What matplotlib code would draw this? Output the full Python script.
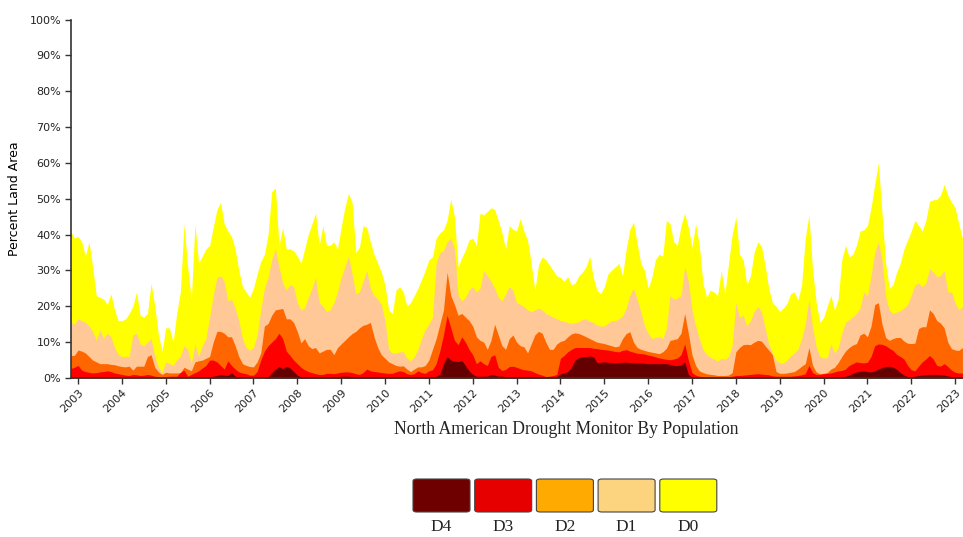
"""
North American Drought Monitor by population: cumulative drought areas, 2003-2023
"""
import matplotlib
matplotlib.use('Agg')
import matplotlib.pyplot as plt
from matplotlib.patches import FancyBboxPatch
import numpy as np
import pandas as pd

# monthly samples, Nov 2002 .. Mar 2023
dates = pd.date_range('2002-11-01', '2023-03-01', freq='MS')

# cumulative percent of area (D0-D4, D1-D4, D2-D4, D3-D4, D4)
d0 = [41, 39,
      39.5, 38, 34, 38, 31, 23, 22.5, 22, 20.5, 23.5, 19, 16,
      16, 16.5, 18, 20, 24, 17.5, 17, 18, 26.5, 20, 12, 7.5,
      14, 14, 10, 18, 24, 43, 31, 22, 43, 32, 34, 36,
      37, 42, 47, 49, 43, 41, 39.5, 36, 30, 25.5, 24, 22.5,
      25, 29, 32.5, 34.5, 40, 52, 53, 37, 42, 36, 36, 35.5,
      34, 32, 36, 40, 43, 46, 37, 42.5, 37, 37, 38, 36,
      42, 47.5, 51.5, 49, 35, 36.5, 42.5, 42, 38, 34.5, 32, 29.5,
      26, 19, 18, 24.5, 25.5, 24, 20, 21, 23, 25, 27.5, 30,
      33, 33.8, 39, 40.5, 41.3, 44, 50, 45, 31, 33.5, 35.7, 38.5,
      39, 37, 46, 45.5, 46.5, 47.5, 47, 44, 40.5, 36, 42.5, 41.5,
      41, 44.5, 41, 38.5, 32, 24.5, 31.5, 33.8, 33, 31.5, 30, 28.5,
      28, 27, 28.3, 26, 26.4, 28.5, 29.5, 31, 34, 28, 24.5, 23.5,
      25.4, 29, 30.1, 31, 32, 28.5, 36, 41.5, 43.5, 37.5, 32, 30,
      25, 28, 33, 34.5, 34, 44, 43, 38, 37, 42.5, 46, 42,
      36.5, 43, 37, 26.5, 22.5, 24.5, 24, 23, 30, 23.5, 32, 40,
      45, 34.5, 33, 26, 28.5, 35, 38, 36.8, 31.5, 25, 21, 20,
      18.5, 19.5, 20.8, 23.5, 24, 21.7, 26, 39, 45.5, 30, 21, 15.5,
      16.8, 20, 23, 19, 22, 33, 37, 33.8, 34.5, 37, 41, 41.3,
      42.5, 47.5, 54, 60, 46, 32, 25, 26, 29.5, 32, 36, 38.5,
      41, 44, 42.5, 41, 44, 49.3, 49.7, 49.8, 51, 54, 51, 49,
      47.5, 43, 39]
d1 = [15.5, 15,
      16.5, 16, 15.5, 14.5, 13, 10.5, 13.5, 11, 12.5, 11.5, 8.5, 6.5,
      6, 6, 6, 12, 12.5, 9.5, 9, 10, 11, 6, 3, 1.5,
      4.5, 4, 3.5, 5, 6, 9, 8, 4, 9.5, 6, 9, 11,
      17, 23, 28, 28.5, 27, 21.5, 22, 19.5, 16, 11, 8.5, 7.8,
      8.5, 12, 19, 25, 28, 33, 36, 31, 26.5, 24.5, 26, 25.5,
      21, 19, 19.5, 22.5, 25, 28, 21, 20, 18.5, 19, 21, 24,
      28, 31, 34, 29, 23.5, 24, 27, 30, 25, 23, 22, 20.5,
      16, 8, 7, 7, 7.3, 7.3, 5.5, 4.8, 6, 8, 11, 13.5,
      15, 17, 32, 35, 35.5, 38, 39, 36, 23, 21.5, 22.5, 24.5,
      25.5, 24, 25, 30, 28.5, 27, 25, 22.5, 21.5, 23.5, 25.5, 24.5,
      21, 20.5, 20, 19, 18.5, 19, 19.5, 19, 18, 17.5, 17, 16.5,
      16, 15.8, 15.5, 15.3, 15.4, 15.7, 16.3, 16.5, 15.8, 15.5, 14.7, 14.5,
      14.5, 15.3, 16, 16, 16.5, 17.3, 19.5, 23, 25, 22, 18.5, 14.5,
      12.5, 11, 11.3, 11.5, 11, 14, 23, 22, 22.3, 23, 31, 27,
      19, 14.5, 11, 8, 6.5, 5.8, 5.3, 4.7, 5.5, 5.2, 6, 9,
      21, 17, 17.5, 14.5, 16, 18.5, 20, 18.5, 14, 9.5, 7, 5,
      4.2, 4.2, 5, 6.2, 7, 8, 11, 15, 22, 14, 8.7, 6,
      5.6, 5.6, 9.5, 7, 8.5, 12.5, 15.5, 16.3, 17, 18, 19.5, 24,
      22.8, 28.5, 35, 38, 33, 22.5, 19, 18, 18.4, 18.8, 19.5, 20.5,
      23, 26, 26.5, 25.5, 26.5, 30.5, 29.5, 28.3, 28.5, 30, 24, 24,
      21, 19, 20]
d2 = [6.3, 6.3,
      7.8, 7.5, 7, 6, 5, 4.5, 4, 4, 4, 3.8, 3.7, 3.4,
      3.2, 3.1, 3.3, 2.2, 3.3, 3.3, 3.3, 6, 6.5, 3, 1.7, 1,
      1.6, 1.4, 1.4, 1.4, 1.5, 3, 2.5, 2, 4.5, 4.8, 5, 5.5,
      6, 10, 13, 13, 12.5, 11.5, 11.5, 9, 6, 4, 3.5, 3.2,
      3.1, 4.5, 7, 14.5, 15.2, 17.5, 19, 19.2, 19.4, 16.5, 16.5, 15.5,
      13, 9.8, 11, 9, 8.2, 8.5, 7, 7.5, 8, 8, 6.5, 8.5,
      9.5, 10.5, 11.5, 12.4, 13, 14, 14.7, 15, 15.5, 11.5, 8.5, 6.5,
      5.5, 4.5, 4, 3.5, 3.3, 3.4, 2.5, 1.8, 2.5, 3.1, 3.1, 3.5,
      5, 8, 11, 15, 19, 29.5, 23, 20.5, 17.5, 18, 17, 16,
      14.5, 11.5, 10.5, 10, 8, 10.5, 15, 12, 9, 8, 11, 12,
      10, 9, 8.7, 7, 9.5, 12, 13, 12.5, 10, 8, 8, 9.5,
      10.2, 10.5, 11.5, 12.3, 12.6, 12.4, 12, 11.5, 11, 10.5, 10, 9.8,
      9.6, 9.3, 9, 8.7, 8.9, 11, 12.4, 12.9, 10, 8.5, 8, 7.7,
      7.4, 7.2, 7, 6.8, 7.3, 8.3, 10.5, 10.7, 11, 12.5, 18, 12.5,
      6.5, 3.5, 2, 1.5, 1.2, 1, 0.9, 0.7, 0.7, 0.7, 0.8, 1.5,
      7.3, 8.5, 9.3, 9.4, 9.3, 10, 10.5, 10.3, 9, 7.8, 6.5, 1.8,
      1.3, 1.3, 1.4, 1.6, 1.8, 2.5, 3.3, 4, 8.5, 3.5, 1.7, 1.2,
      1.3, 1.5, 2.5, 3, 4.3, 6, 7.5, 8.5, 9.2, 9.6, 12, 12.5,
      11.5, 14.5, 20.5, 21, 15, 11.3, 10.5, 11, 11.3, 11.3, 10.3, 9.7,
      9.6, 9.7, 13.8, 14.3, 14.3, 19, 18, 16, 15.3, 14, 10, 8.2,
      7.8, 7.7, 8.5]
d3 = [2.6, 3,
      3.5, 2.2, 1.8, 1.6, 1.4, 1.5, 1.7, 1.8, 2, 1.8, 1.4, 1.2,
      1, 0.8, 0.7, 1, 0.9, 0.7, 0.8, 1, 0.8, 0.5, 0.4, 0.3,
      0.4, 0.5, 0.5, 0.5, 1.5, 2.2, 0.5, 1, 1.5, 2, 2.8, 3.5,
      5, 5, 4.5, 3.5, 2.5, 4.8, 3.5, 2.5, 1.7, 1.4, 1.2, 0.8,
      0.8, 1.8, 5, 7.5, 9, 10, 11, 12.5, 11, 7.5, 6.3, 5,
      4, 3, 2.3, 1.8, 1.5, 1.2, 1, 1, 1.3, 1.3, 1.2, 1.4,
      1.6, 1.7, 1.7, 1.5, 1.2, 1, 1.5, 2.5, 2, 1.8, 1.7, 1.5,
      1.4, 1.3, 1.3, 1.7, 2, 1.8, 1.2, 1, 1.2, 2, 1.5, 1.3,
      2, 2.3, 4, 7.5, 12, 17.5, 14, 10.5, 9.3, 11.5, 10, 8,
      6.5, 4, 4.8, 4, 3.5, 6, 6.5, 3, 2.1, 2.4, 3.2, 3.3,
      3, 2.6, 2.3, 2.2, 2, 1.5, 1.1, 0.8, 0.4, 0.5, 0.7, 1,
      5.5, 6.3, 7.3, 8, 8.5, 8.5, 8.5, 8.5, 8.5, 8.3, 8.2, 8,
      7.9, 7.8, 7.6, 7.4, 7.3, 7.7, 7.9, 7.5, 7.2, 6.9, 6.8, 6.7,
      6.4, 6.2, 5.9, 5.6, 5.4, 5.2, 5.1, 5.3, 5.6, 6.5, 9.5, 5,
      1.5, 0.8, 0.5, 0.4, 0.3, 0.3, 0.3, 0.3, 0.3, 0.3, 0.3, 0.5,
      0.7, 0.7, 0.8, 0.9, 1, 1.1, 1.2, 1.1, 1, 0.9, 0.6, 0.5,
      0.5, 0.5, 0.5, 0.5, 0.6, 0.7, 0.9, 1.2, 3.5, 1.5, 1, 1,
      1.2, 1.3, 1.4, 1.7, 2, 2.1, 2.5, 3.5, 4, 4.5, 4.3, 4.2,
      4.4, 6, 9, 9.5, 9.4, 9, 8.3, 7.7, 6.6, 6, 5.3, 3.5,
      2.3, 2, 3.3, 4.5, 5.3, 6.3, 5.3, 3.5, 3.3, 4, 3.2, 2.2,
      1.6, 1.4, 1.4]
d4 = [0, 0,
      0, 0, 0, 0, 0, 0, 0, 0, 0, 0, 0, 0,
      0, 0, 0, 0, 0, 0, 0, 0, 0, 0, 0, 0,
      0, 0, 0, 0, 0, 0, 0, 0, 0, 0, 0, 0,
      0.3, 0.5, 0.7, 1, 0.8, 0.7, 1.5, 0.5, 0.2, 0, 0, 0,
      0, 0, 0, 0, 0.3, 1.5, 2.5, 3.2, 2.6, 3.3, 2.8, 1.8,
      0.8, 0.3, 0.3, 0.3, 0.3, 0.3, 0.3, 0.3, 0.3, 0.3, 0.3, 0.3,
      0.5, 0.5, 0.5, 0.3, 0.3, 0.3, 0.3, 0.3, 0.3, 0.3, 0.3, 0.3,
      0.3, 0.3, 0.3, 0.3, 0.3, 0.3, 0.3, 0.3, 0.3, 0.3, 0.3, 0.3,
      0.3, 0.3, 0.5, 1, 4, 6, 5, 4.7, 4.6, 4.9, 3.5, 2,
      1, 0.5, 0.5, 0.5, 0.5, 1, 0.8, 0.5, 0.5, 0.4, 0.4, 0.3,
      0.4, 0.4, 0.4, 0.4, 0.4, 0.4, 0.4, 0.4, 0.4, 0.4, 0.4, 0.4,
      1.2, 1.4, 1.8, 3, 5, 5.7, 5.9, 6, 6.1, 6, 4.3, 4.4,
      4.5, 4.4, 4.3, 4.2, 4.3, 4.4, 4.4, 4.3, 4.2, 4.2, 4.2, 4.1,
      4, 4, 4, 4, 4, 4, 3.8, 3.5, 3.5, 3.6, 4.5, 1,
      0.2, 0.1, 0.1, 0.1, 0.1, 0.1, 0.1, 0.1, 0.1, 0.1, 0.1, 0.1,
      0.1, 0.1, 0.1, 0.1, 0.1, 0.1, 0.1, 0.1, 0.1, 0.1, 0.1, 0.1,
      0.1, 0.1, 0.1, 0.1, 0.1, 0.1, 0.1, 0.1, 0.1, 0.1, 0.1, 0.1,
      0.1, 0.1, 0.1, 0.1, 0.1, 0.1, 0.5, 0.8, 1.3, 1.7, 1.9, 2,
      1.8, 1.7, 2, 2.5, 2.9, 3.2, 3.3, 3, 2.5, 1.5, 0.8, 0.4,
      0.3, 0.5, 0.7, 0.8, 0.9, 1, 1, 1, 0.9, 0.8, 0.6, 0.3,
      0.2, 0.2, 0.2]

categories = ['D4', 'D3', 'D2', 'D1', 'D0']
area_colors = ['#640000', '#ff0000', '#ff6600', '#ffc896', '#ffff00']
legend_colors = ['#6e0000', '#e60000', '#ffaa00', '#fcd37f', '#ffff00']


def main():
    x = dates.year + (dates.month - 1) / 12.0
    layers = [np.array(v, dtype=float) for v in (d4, d3, d2, d1, d0)]
    # keep the cumulative layers nested (D4 <= D3 <= ... <= D0)
    for i in range(1, len(layers)):
        layers[i] = np.maximum(layers[i], layers[i - 1])

    fig = plt.figure(figsize=(9.63, 5.37), dpi=100)
    ax = fig.add_axes([71 / 963, 1 - 378 / 537, 892 / 963, 358.5 / 537])

    # largest first so smaller categories sit on top
    for vals, col in zip(layers[::-1], area_colors[::-1]):
        ax.fill_between(x, 0, vals, color=col, linewidth=0)

    ax.set_xlim(2002.84, 2023.18)
    ax.set_ylim(0, 100)
    ax.set_yticks(np.arange(0, 101, 10))
    ax.set_yticklabels([f'{v}%' for v in range(0, 101, 10)], fontsize=8,
                       color='#222222')
    years = np.arange(2003, 2024)
    ax.set_xticks(years)
    ax.set_xticklabels([str(y) for y in years], rotation=45, ha='right',
                       va='top', rotation_mode='anchor', fontsize=8,
                       color='#222222')
    ax.tick_params(axis='both', length=4, width=1, color='#333333', pad=3)
    for s in ['top', 'right']:
        ax.spines[s].set_visible(False)
    for s in ['left', 'bottom']:
        ax.spines[s].set_linewidth(1.2)
        ax.spines[s].set_color('#333333')
    ax.set_ylabel('Percent Land Area', fontsize=9, labelpad=6)

    fig.text(566 / 963, 1 - 429 / 537,
             'North American Drought Monitor By Population',
             ha='center', va='center', fontsize=12.7,
             family='Liberation Serif', color='#222222')

    # colour key below the chart
    box_w, box_h, step = 57 / 963, 33 / 537, 61.7 / 963
    x0, y0 = 413 / 963, 1 - 512 / 537
    for i, (lab, col) in enumerate(zip(categories, legend_colors)):
        bx = x0 + i * step
        fig.patches.append(FancyBboxPatch(
            (bx, y0), box_w, box_h, transform=fig.transFigure,
            boxstyle='round,pad=0,rounding_size=0.004',
            facecolor=col, edgecolor='#444444', linewidth=0.8))
        fig.text(bx + box_w / 2, 1 - 527 / 537, lab, ha='center',
                 va='center', fontsize=12.5, family='Liberation Serif',
                 color='#222222')

    fig.savefig('out.png', dpi=100)


if __name__ == '__main__':
    main()
